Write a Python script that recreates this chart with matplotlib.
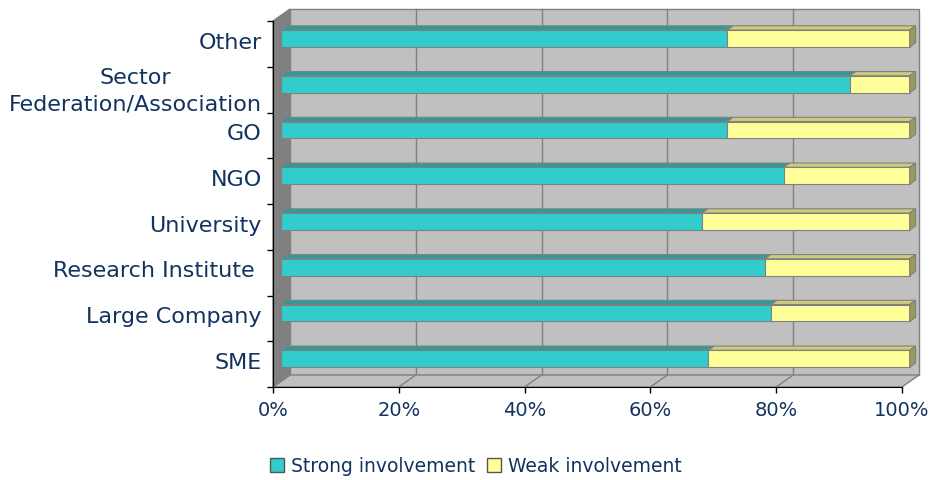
import numpy as np
import matplotlib.pyplot as plt
from matplotlib.patches import Polygon, Patch
from matplotlib.lines import Line2D
from matplotlib.transforms import IdentityTransform

categories = ['SME', 'Large Company', 'Research Institute ', 'University', 'NGO', 'GO',
              'Sector\nFederation/Association', 'Other']
strong = [68, 78, 77, 67, 80, 71, 90.5, 71]
weak = [32, 22, 23, 33, 20, 29, 9.5, 29]
xticks = [0, 20, 40, 60, 80, 100]

TEXT = '#12335F'
WALL = '#C0C0C0'
EDGE = '#808080'
DX, DY = 17, 12          # depth offset of the back wall, pixels
D0, D1 = 0.45, 0.80      # bar depth (fraction of wall depth)
HALF = 0.185             # half bar height in category units

# colours: front, top, side
teal = ('#33CCCC', '#2E9A9A', '#1F7676')
yellow = ('#FFFF99', '#CCCC7A', '#9A9A5C')

plt.rcParams['font.family'] = ['DejaVu Sans']

fig = plt.figure(figsize=(9.3, 4.8), dpi=100)
ax = fig.add_axes([273 / 930, 93 / 480, 629 / 930, 366 / 480])
ax.set_xlim(0, 100)
ax.set_ylim(-0.5, len(categories) - 0.5)
ax.patch.set_visible(False)
ax.spines[['top', 'right']].set_visible(False)
ax.spines[['left', 'bottom']].set_color('black')


def pt(x, y, d):
    X, Y = ax.transData.transform((x, y))
    return (X + d * DX, Y + d * DY)


def face(pts, z, **kw):
    ax.add_patch(Polygon(pts, closed=True, transform=IdentityTransform(),
                         clip_on=False, zorder=z, **kw))


def line(p, q, z, **kw):
    ax.add_line(Line2D([p[0], q[0]], [p[1], q[1]], transform=IdentityTransform(),
                       clip_on=False, zorder=z, **kw))


y0, y1 = -0.5, len(categories) - 0.5
# back wall, floor, left wall
face([pt(0, y0, 1), pt(100, y0, 1), pt(100, y1, 1), pt(0, y1, 1)], 0.5, fc=WALL, ec=EDGE, lw=1)
for x in xticks[1:-1]:
    line(pt(x, y0, 1), pt(x, y1, 1), 0.6, color=EDGE, lw=1)
face([pt(0, y0, 0), pt(100, y0, 0), pt(100, y0, 1), pt(0, y0, 1)], 0.7, fc=WALL, ec=EDGE, lw=1)
for x in xticks[1:-1]:
    line(pt(x, y0, 0), pt(x, y0, 1), 0.8, color=EDGE, lw=1)
face([pt(0, y0, 0), pt(0, y1, 0), pt(0, y1, 1), pt(0, y0, 1)], 0.9, fc='#808080', ec=EDGE, lw=1)

# stacked 3D bars
for i, (s, w) in enumerate(zip(strong, weak)):
    segs = [(0, s, teal), (s, s + w, yellow)]
    for k, (a, b, col) in enumerate(segs):
        lo, hi = i - HALF, i + HALF
        face([pt(a, lo, D0), pt(b, lo, D0), pt(b, hi, D0), pt(a, hi, D0)], 3,
             fc=col[0], ec=EDGE, lw=0.8)
        face([pt(a, hi, D0), pt(b, hi, D0), pt(b, hi, D1), pt(a, hi, D1)], 3,
             fc=col[1], ec=EDGE, lw=0.8)
        if k == len(segs) - 1:
            face([pt(b, lo, D0), pt(b, lo, D1), pt(b, hi, D1), pt(b, hi, D0)], 3,
                 fc=col[2], ec=EDGE, lw=0.8)

# axes ticks and labels
ax.set_xticks(xticks)
ax.set_xticklabels(['%d%%' % v for v in xticks])
ax.tick_params(axis='x', length=4.3, width=1, color='black', labelcolor=TEXT,
               labelsize=14, pad=6)
ax.set_yticks(np.arange(y0, y1 + 0.01, 1))
ax.set_yticklabels([])
ax.tick_params(axis='y', which='major', length=4.3, width=1, color='black')
ax.set_yticks(np.arange(len(categories)) + 0.07, minor=True)
ax.set_yticklabels(categories, minor=True)
ax.tick_params(axis='y', which='minor', length=0, pad=8, labelsize=16, labelcolor=TEXT)
for t in ax.get_yticklabels(minor=True):
    t.set_multialignment('center')
    t.set_linespacing(1.35)

handles = [Patch(fc=teal[0], ec='#555555', label='Strong involvement'),
           Patch(fc=yellow[0], ec='#555555', label='Weak involvement')]
fig.legend(handles=handles, loc='center', bbox_to_anchor=(476 / 930, 1 - 466 / 480),
           ncol=2, frameon=False, fontsize=13.5, handlelength=0.75, handleheight=0.75,
           handletextpad=0.4, columnspacing=0.6, labelcolor=TEXT)

fig.savefig('out.png', dpi=100)
